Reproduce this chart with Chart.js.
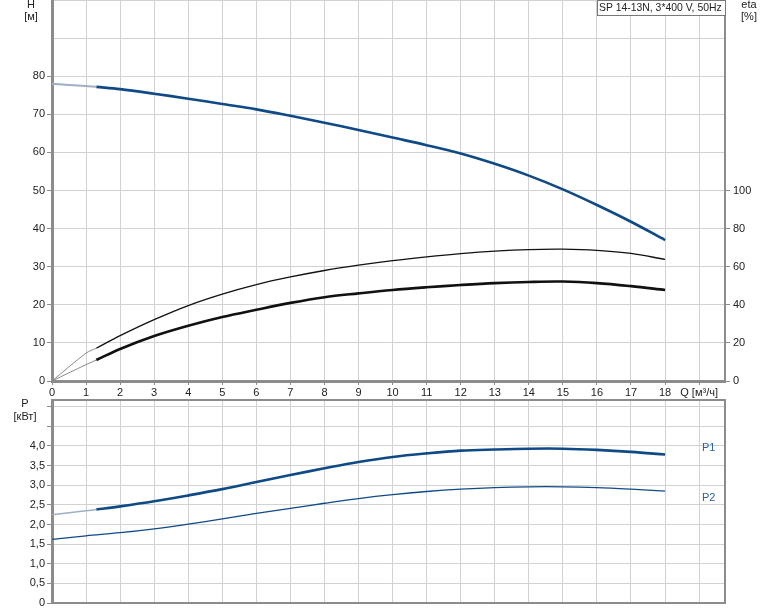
<!DOCTYPE html>
<html lang="ru">
<head>
<meta charset="UTF-8">
<title>SP 14-13N, 3*400 V, 50Hz</title>
<script src="https://cdn.jsdelivr.net/npm/chart.js"></script>
<style>
    body { margin: 0; background: #fff; }
    .panel { position: absolute; left: 0; }
    #topPanel { top: 0; }
    #bottomPanel { top: 392px; }
</style>
</head>
<body>
<div class="panel" id="topPanel"><canvas id="curveChart" width="774" height="400"></canvas></div>
<div class="panel" id="bottomPanel"><canvas id="powerChart" width="774" height="219"></canvas></div>

<script>
    // flow Q [m3/h]
    const flowLight = [0, 1, 1.3];   // start of the curves, drawn pale
    const flowMain = [1.3, 2, 3, 4, 5, 6, 7, 8, 9, 10, 11, 12, 13, 14, 15, 16, 17, 18];
    const flowAll = [0, 1, 2, 3, 4, 5, 6, 7, 8, 9, 10, 11, 12, 13, 14, 15, 16, 17, 18];

    // head H [m]
    const headLight = [78.0, 77.4, 77.2];
    const headMain = [77.2, 76.6, 75.4, 74.1, 72.7, 71.3, 69.6, 67.8, 65.9, 63.9, 61.9, 59.7, 57.0, 53.9, 50.3, 46.2, 41.8, 37.0];

    // efficiency eta [%]
    const eta1Light = [0, 14.6, 17.2];
    const eta1Main = [17.2, 23.8, 32.2, 39.6, 45.6, 50.6, 54.6, 58.0, 60.8, 63.2, 65.2, 66.9, 68.2, 69.0, 69.2, 68.6, 67.0, 63.8];
    const eta2Light = [0, 8.6, 11.0];
    const eta2Main = [11.0, 16.8, 23.6, 29.0, 33.6, 37.4, 41.0, 44.0, 46.0, 47.8, 49.2, 50.4, 51.4, 52.0, 52.2, 51.4, 49.8, 47.8];

    // power P [kW]
    const p1Light = [2.245, 2.35, 2.38];
    const p1Main = [2.38, 2.46, 2.59, 2.74, 2.90, 3.08, 3.26, 3.43, 3.59, 3.72, 3.81, 3.88, 3.91, 3.93, 3.93, 3.90, 3.85, 3.78];
    const p2All = [1.62, 1.71, 1.79, 1.89, 2.01, 2.14, 2.28, 2.41, 2.54, 2.66, 2.76, 2.84, 2.90, 2.94, 2.96, 2.96, 2.94, 2.90, 2.85];

    const headTicks = [0, 10, 20, 30, 40, 50, 60, 70, 80];
    const etaTicks = [0, 20, 40, 60, 80, 100];
    const powerTicks = [0, 0.5, 1, 1.5, 2, 2.5, 3, 3.5, 4];
    const flowAxisTitle = 'Q [м³/ч]';

    const FONT = '"Liberation Sans", Arial, sans-serif';
    Chart.defaults.font.family = FONT;
    Chart.defaults.font.size = 11;
    Chart.defaults.color = '#222';

    const BLUE = '#0f4a86';
    const GRID = '#d2d2d2';
    const AXIS = '#8c8c8c';

    const pts = (xs, ys) => xs.map((x, i) => ({ x: x, y: ys[i] }));

    function curve(data, color, width, axis) {
        return {
            data: data,
            borderColor: color,
            borderWidth: width,
            pointRadius: 0,
            tension: 0.35,
            fill: false,
            yAxisID: axis
        };
    }

    // no extra room for half tick labels at the ends of the axes
    function noEndPadding(s) {
        s.paddingTop = 0;
        s.paddingBottom = 0;
        s.paddingLeft = 0;
        s.paddingRight = 0;
    }

    // plain text drawn on top of the chart
    const textPlugin = {
        id: 'texts',
        afterDraw(chart, args, opts) {
            const ctx = chart.ctx;
            ctx.save();
            if (opts.box) {
                const b = opts.box;
                ctx.fillStyle = '#fff';
                ctx.fillRect(b.x, b.y, b.w, b.h);
                ctx.strokeStyle = '#777';
                ctx.lineWidth = 1;
                ctx.strokeRect(b.x + 0.5, b.y + 0.5, b.w, b.h);
            }
            if (opts.topLine) {
                const a = chart.chartArea;
                ctx.strokeStyle = AXIS;
                ctx.lineWidth = 2;
                ctx.beginPath();
                ctx.moveTo(a.left, a.top);
                ctx.lineTo(a.right, a.top);
                ctx.stroke();
            }
            (opts.items || []).forEach(t => {
                ctx.font = (t.size || 11) + 'px ' + FONT;
                ctx.textBaseline = 'middle';
                ctx.fillStyle = t.color || '#222';
                ctx.textAlign = t.align || 'center';
                ctx.fillText(t.text, t.x, t.y);
            });
            ctx.restore();
        }
    };

    const fmtComma = v => v === 0 ? '0' : v.toFixed(1).replace('.', ',');

    new Chart(document.getElementById('curveChart'), {
        type: 'line',
        data: {
            datasets: [
                curve(pts(flowLight, eta1Light), '#8a8a8a', 1, 'eta'),
                curve(pts(flowLight, eta2Light), '#8a8a8a', 1, 'eta'),
                curve(pts(flowMain, eta1Main), '#111', 1.3, 'eta'),
                curve(pts(flowMain, eta2Main), '#111', 2.6, 'eta'),
                curve(pts(flowLight, headLight), '#9fb0c6', 2, 'h'),
                curve(pts(flowMain, headMain), BLUE, 2.6, 'h')
            ]
        },
        options: {
            responsive: false,
            animation: false,
            layout: { padding: 0 },
            plugins: {
                legend: { display: false },
                tooltip: { enabled: false },
                texts: {
                    box: { x: 597, y: 0, w: 128, h: 15 },
                    items: [
                        { text: 'H', x: 31, y: 5 },
                        { text: '[м]', x: 31, y: 17 },
                        { text: 'eta', x: 749, y: 5 },
                        { text: '[%]', x: 749, y: 17 },
                        { text: 'SP 14-13N, 3*400 V, 50Hz', x: 599, y: 8, align: 'left', size: 10.4 }
                    ]
                }
            },
            scales: {
                x: {
                    type: 'linear',
                    min: 0,
                    max: 19.76,
                    ticks: {
                        stepSize: 1,
                        includeBounds: false,
                        maxRotation: 0,
                        autoSkip: false,
                        padding: 1,
                        callback: v => v === 19 ? flowAxisTitle : (flowAll.includes(v) ? String(v) : '')
                    },
                    grid: { color: GRID, lineWidth: 1, tickLength: 4, tickColor: AXIS },
                    border: { color: AXIS, width: 3 },
                    afterFit(s) { s.height = 19; noEndPadding(s); }
                },
                h: {
                    type: 'linear',
                    position: 'left',
                    min: 0,
                    max: 100,
                    ticks: {
                        stepSize: 10,
                        padding: 2,
                        callback: v => headTicks.includes(v) ? String(v) : ''
                    },
                    grid: {
                        color: GRID,
                        lineWidth: 1,
                        tickLength: 5,
                        tickColor: c => headTicks.includes(c.tick && c.tick.value) ? AXIS : 'rgba(0,0,0,0)'
                    },
                    border: { color: AXIS, width: 3 },
                    afterFit(s) { s.width = 52; noEndPadding(s); }
                },
                eta: {
                    type: 'linear',
                    position: 'right',
                    min: 0,
                    max: 200,
                    ticks: {
                        stepSize: 20,
                        padding: 3,
                        callback: v => etaTicks.includes(v) ? String(v) : ''
                    },
                    grid: {
                        drawOnChartArea: false,
                        tickLength: 5,
                        tickColor: c => etaTicks.includes(c.tick && c.tick.value) ? AXIS : 'rgba(0,0,0,0)'
                    },
                    border: { color: AXIS, width: 2 },
                    afterFit(s) { s.width = 49; noEndPadding(s); }
                }
            }
        },
        plugins: [textPlugin]
    });

    new Chart(document.getElementById('powerChart'), {
        type: 'line',
        data: {
            datasets: [
                curve(pts(flowAll, p2All), BLUE, 1.3, 'p'),
                curve(pts(flowLight, p1Light), '#9fb0c6', 1.5, 'p'),
                curve(pts(flowMain, p1Main), BLUE, 2.6, 'p')
            ]
        },
        options: {
            responsive: false,
            animation: false,
            layout: { padding: { top: 8 } },
            plugins: {
                legend: { display: false },
                tooltip: { enabled: false },
                texts: {
                    topLine: true,
                    items: [
                        { text: 'P', x: 25, y: 12 },
                        { text: '[кВт]', x: 25, y: 25 },
                        { text: 'P1', x: 702, y: 56, align: 'left', color: '#2a5ea8' },
                        { text: 'P2', x: 702, y: 106, align: 'left', color: '#2a5ea8' }
                    ]
                }
            },
            scales: {
                x: {
                    type: 'linear',
                    min: 0,
                    max: 19.76,
                    ticks: { display: false, stepSize: 1, includeBounds: false },
                    grid: { color: GRID, lineWidth: 1, drawTicks: false },
                    border: { color: AXIS, width: 2 },
                    afterFit(s) { s.height = 8; noEndPadding(s); }
                },
                p: {
                    type: 'linear',
                    position: 'left',
                    min: 0,
                    max: 5.17,
                    ticks: {
                        stepSize: 0.5,
                        includeBounds: false,
                        padding: 2,
                        callback: v => powerTicks.includes(v) ? fmtComma(v) : ''
                    },
                    grid: { color: GRID, lineWidth: 1, tickLength: 5, tickColor: AXIS },
                    border: { color: AXIS, width: 3 },
                    afterFit(s) { s.width = 52; noEndPadding(s); }
                },
                edge: {
                    type: 'linear',
                    position: 'right',
                    min: 0,
                    max: 1,
                    ticks: { display: false },
                    grid: { drawOnChartArea: false, drawTicks: false },
                    border: { color: AXIS, width: 2 },
                    afterFit(s) { s.width = 49; noEndPadding(s); }
                }
            }
        },
        plugins: [textPlugin]
    });
</script>
</body>
</html>
